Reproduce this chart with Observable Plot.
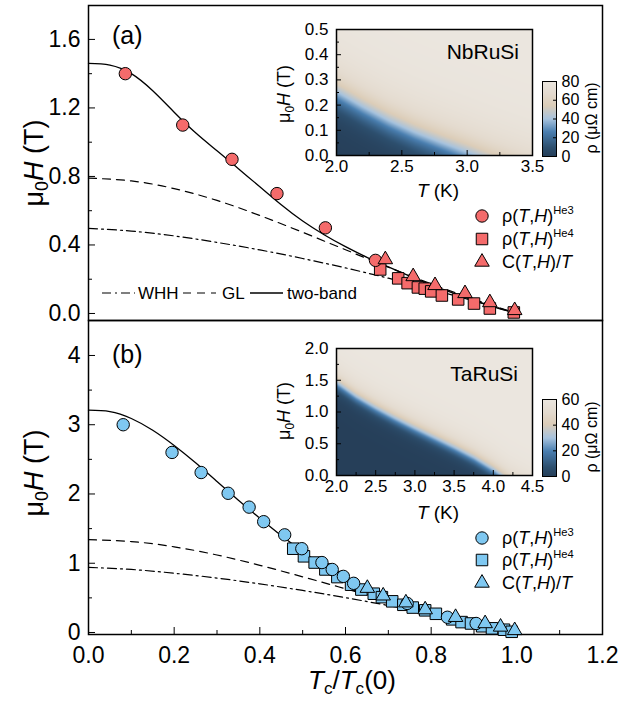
<!DOCTYPE html>
<html><head><meta charset="utf-8">
<script src="https://cdn.jsdelivr.net/npm/d3@7"></script>
<script src="https://cdn.jsdelivr.net/npm/@observablehq/plot@0.6"></script>
<style>
body{margin:0;background:#fff;}
#fig{position:relative;width:621px;height:702px;overflow:hidden;font-family:"Liberation Sans",Arial,sans-serif;}
#fig > svg{position:absolute;overflow:visible;}
</style></head><body><div id="fig"></div><script>
// ---------------- data ----------------
const xTicksMain = [0, 0.2, 0.4, 0.6, 0.8, 1.0, 1.2];
const xTickLabels = ["0.0", "0.2", "0.4", "0.6", "0.8", "1.0", "1.2"];
const xMinorMain = [0.1, 0.3, 0.5, 0.7, 0.9, 1.1];
const yTicksA = [0, 0.4, 0.8, 1.2, 1.6];
const yTickLabelsA = ["0.0", "0.4", "0.8", "1.2", "1.6"];
const yMinorA = [0.2, 0.6, 1.0, 1.4];
const yTicksB = [0, 1, 2, 3, 4];
const yTickLabelsB = ["0", "1", "2", "3", "4"];
const yMinorB = [0.5, 1.5, 2.5, 3.5];

// panel (a) NbRuSi, Hc2 vs reduced temperature
const aHe3T = [0.086, 0.22, 0.335, 0.44, 0.553, 0.67];
const aHe3H = [1.40, 1.10, 0.90, 0.70, 0.50, 0.31];
const aHe4T = [0.681, 0.723, 0.745, 0.769, 0.785, 0.80, 0.825, 0.863, 0.90, 0.937, 0.993];
const aHe4H = [0.257, 0.205, 0.177, 0.152, 0.145, 0.129, 0.105, 0.082, 0.058, 0.029, 0.006];
const aCT = [0.693, 0.758, 0.809, 0.879, 0.937, 0.995];
const aCH = [0.315, 0.216, 0.164, 0.117, 0.064, 0.018];

// panel (b) TaRuSi
const bHe3T = [0.081, 0.195, 0.263, 0.326, 0.375, 0.409, 0.458, 0.498, 0.545, 0.569, 0.595, 0.619, 0.744, 0.838, 0.905];
const bHe3H = [3.00, 2.60, 2.31, 2.01, 1.81, 1.60, 1.41, 1.21, 1.01, 0.91, 0.81, 0.71, 0.42, 0.22, 0.13];
const bHe4T = [0.478, 0.503, 0.528, 0.553, 0.581, 0.613, 0.637, 0.666, 0.685, 0.709, 0.735, 0.757, 0.786, 0.811, 0.849, 0.871, 0.893, 0.919, 0.942, 0.97, 0.988];
const bHe4H = [1.21, 1.10, 1.01, 0.91, 0.80, 0.69, 0.62, 0.56, 0.51, 0.45, 0.40, 0.36, 0.32, 0.27, 0.19, 0.15, 0.13, 0.09, 0.06, 0.04, 0.01];
const bCT = [0.651, 0.688, 0.741, 0.786, 0.857, 0.926, 0.962, 0.995];
const bCH = [0.64, 0.53, 0.43, 0.33, 0.22, 0.13, 0.08, 0.03];

// fitted curves
const tCoarse = [0, 0.1, 0.2, 0.3, 0.4, 0.5, 0.6, 0.7, 0.8, 0.9, 1.0];
const tFine = [0, 0.05, 0.1, 0.15, 0.2, 0.25, 0.3, 0.35, 0.4, 0.45, 0.5, 0.55, 0.6, 0.65, 0.7, 0.75, 0.8, 0.85, 0.9, 0.95, 1.0];
const twoBandA = [1.46, 1.45, 1.40, 1.30, 1.175, 1.055, 0.95, 0.845, 0.74, 0.635, 0.54, 0.46, 0.39, 0.328, 0.272, 0.218, 0.167, 0.12, 0.076, 0.036, 0.0];
const glA = [0.79, 0.774, 0.729, 0.66, 0.572, 0.474, 0.372, 0.27, 0.173, 0.083, 0.0];
const whhA = [0.497, 0.481, 0.453, 0.415, 0.371, 0.321, 0.266, 0.206, 0.141, 0.073, 0.0];
const twoBandB = [3.21, 3.19, 3.09, 2.92, 2.70, 2.45, 2.18, 1.91, 1.65, 1.40, 1.17, 0.96, 0.78, 0.62, 0.49, 0.38, 0.28, 0.195, 0.12, 0.055, 0.0];
const glB = [1.34, 1.313, 1.237, 1.119, 0.970, 0.804, 0.631, 0.459, 0.294, 0.141, 0.0];
const whhB = [0.94, 0.91, 0.856, 0.786, 0.702, 0.607, 0.503, 0.389, 0.267, 0.137, 0.0];

// inset heat maps: mid-transition field vs temperature
const insetAT = [2.0, 2.2, 2.4, 2.6, 2.8, 3.0, 3.2, 3.5];
const insetAHmid = [0.245, 0.185, 0.13, 0.083, 0.043, 0.005, -0.035, -0.09];
const insetBT = [2.0, 2.25, 2.5, 2.75, 3.0, 3.25, 3.5, 3.75, 4.0, 4.2, 4.5];
const insetBHmid = [1.45, 1.23, 1.05, 0.885, 0.73, 0.58, 0.43, 0.27, 0.08, -0.1, -0.3];
const insetAXTicks = [2.0, 2.5, 3.0, 3.5], insetAXLabels = ["2.0", "2.5", "3.0", "3.5"], insetAXMinor = [2.25, 2.75, 3.25];
const insetAYTicks = [0, 0.1, 0.2, 0.3, 0.4, 0.5], insetAYLabels = ["0.0", "0.1", "0.2", "0.3", "0.4", "0.5"], insetAYMinor = [0.05, 0.15, 0.25, 0.35, 0.45];
const insetBXTicks = [2.0, 2.5, 3.0, 3.5, 4.0, 4.5], insetBXLabels = ["2.0", "2.5", "3.0", "3.5", "4.0", "4.5"], insetBXMinor = [2.25, 2.75, 3.25, 3.75, 4.25];
const insetBYTicks = [0, 0.5, 1.0, 1.5, 2.0], insetBYLabels = ["0.0", "0.5", "1.0", "1.5", "2.0"], insetBYMinor = [0.25, 0.75, 1.25, 1.75];
const cbarATicks = [0, 20, 40, 60, 80];
const cbarBTicks = [0, 20, 40, 60];
const cmapPos = [0, 0.12, 0.33, 0.5, 0.68, 0.84, 1.0];
const cmapColors = ["#263f59", "#2d4f6e", "#4a7fb0", "#a7c3de", "#dccdb8", "#e4dbcf", "#ebe6df"];

const redFill = "#f46b6b", blueFill = "#7fc8f1";
const FONT = "'Liberation Sans', Arial, sans-serif";

// ---------------- helpers ----------------
const rows = (xs, ys) => xs.map((x, i) => ({x, y: ys[i]}));
const lab = (ticks, labels) => d => labels[ticks.indexOf(d)];
function lerp(xs, ys, x) {
  if (x <= xs[0]) return ys[0];
  for (let i = 1; i < xs.length; i++) if (x <= xs[i]) {
    const f = (x - xs[i - 1]) / (xs[i] - xs[i - 1]);
    return ys[i - 1] + f * (ys[i] - ys[i - 1]);
  }
  return ys[ys.length - 1];
}
const fig = document.getElementById("fig");
function place(svg, left, top) { svg.style.left = left + "px"; svg.style.top = top + "px"; fig.appendChild(svg); }

function mainPanel(o) {
  return Plot.plot({
    width: 621, height: o.height, marginLeft: 88, marginRight: 19, marginTop: o.mt, marginBottom: o.mb,
    style: {fontFamily: FONT, fontSize: "23px", color: "black", background: "transparent"},
    x: {domain: [0, 1.2], axis: null}, y: {domain: o.ydom, axis: null},
    marks: [
      Plot.line(rows(tCoarse, o.whh), {x: "x", y: "y", curve: "natural", stroke: "black", strokeWidth: 1.2, strokeDasharray: "9,4,2,4"}),
      Plot.line(rows(tCoarse, o.gl), {x: "x", y: "y", curve: "natural", stroke: "black", strokeWidth: 1.2, strokeDasharray: "8,6"}),
      Plot.line(rows(tFine, o.two), {x: "x", y: "y", curve: "natural", stroke: "black", strokeWidth: 1.3}),
      Plot.axisY(o.yt, {anchor: "left", tickSize: -7, tickPadding: 15, tickFormat: lab(o.yt, o.ytl), label: null, fontSize: 23}),
      Plot.axisY(o.ym, {anchor: "left", tickSize: -4, tickFormat: () => "", label: null}),
      ...(o.xaxis ? [
        Plot.axisX(xTicksMain, {anchor: "bottom", tickSize: -7, tickPadding: 19, tickFormat: lab(xTicksMain, xTickLabels), label: null, fontSize: 23}),
        Plot.axisX(xMinorMain, {anchor: "bottom", tickSize: -4, tickFormat: () => "", label: null})
      ] : []),
      Plot.frame({stroke: "black", strokeWidth: 1.5}),
      Plot.dot(rows(o.he4T, o.he4H), {x: "x", y: "y", symbol: "square", r: 6.5, fill: o.fill, stroke: "black", strokeWidth: 1}),
      Plot.dot(rows(o.he3T, o.he3H), {x: "x", y: "y", symbol: "circle", r: 6.2, fill: o.fill, stroke: "black", strokeWidth: 1}),
      Plot.dot(rows(o.cT, o.cH), {x: "x", y: "y", symbol: "triangle", r: 5.4, fill: o.fill, stroke: "black", strokeWidth: 1})
    ]
  });
}

function colorScale(rmax) {
  return {type: "linear", domain: cmapPos.map(p => p * rmax), range: cmapColors, interpolate: "rgb"};
}

function insetPanel(o) {
  return Plot.plot({
    width: 266, height: 166, marginLeft: 60, marginRight: 10, marginTop: 10, marginBottom: 166 - 10 - o.ph,
    style: {fontFamily: FONT, fontSize: "17px", color: "black", background: "transparent"},
    x: {domain: o.xdom, axis: null}, y: {domain: o.ydom, axis: null},
    color: colorScale(o.rmax),
    marks: [
      Plot.raster({x1: o.xdom[0], x2: o.xdom[1], y1: o.ydom[0], y2: o.ydom[1], pixelSize: 1,
        fill: (T, H) => {
          const d = H - lerp(o.bT, o.bH, T);
          const s1 = 1 / (1 + Math.exp(-d / o.w));
          const s2 = 1 / (1 + Math.exp(-(d - o.w * 2) / (o.w * 2.5)));
          return o.rmax * (0.72 * s1 + 0.28 * s2);
        }}),
      Plot.axisX(o.xt, {anchor: "bottom", tickSize: -5, tickPadding: 9, tickFormat: lab(o.xt, o.xtl), label: null}),
      Plot.axisX(o.xm, {anchor: "bottom", tickSize: -3, tickFormat: () => "", label: null}),
      Plot.axisY(o.yt, {anchor: "left", tickSize: -5, tickPadding: 13, tickFormat: lab(o.yt, o.ytl), label: null}),
      Plot.axisY(o.ym, {anchor: "left", tickSize: -3, tickFormat: () => "", label: null}),
      Plot.frame({stroke: "black", strokeWidth: 1.5})
    ]
  });
}

function colorBar(o) {
  return Plot.plot({
    width: 70, height: 10 + o.ph + 10, marginLeft: 2, marginRight: 54, marginTop: 10, marginBottom: 10,
    style: {fontFamily: FONT, fontSize: "16px", color: "black", background: "transparent"},
    x: {domain: [0, 1], axis: null}, y: {domain: [0, o.rmax], axis: null},
    color: colorScale(o.rmax),
    marks: [
      Plot.raster({x1: 0, x2: 1, y1: 0, y2: o.rmax, pixelSize: 1, fill: (x, y) => y}),
      Plot.axisY(o.ticks, {anchor: "right", tickSize: -4, tickPadding: 9, tickFormat: d => String(d), label: null}),
      Plot.frame({stroke: "black", strokeWidth: 1})
    ]
  });
}

// ---------------- build ----------------
const panelA = mainPanel({height: 321, mt: 5, mb: 1, ydom: [-0.041, 1.798], yt: yTicksA, ytl: yTickLabelsA, ym: yMinorA,
  xaxis: false, whh: whhA, gl: glA, two: twoBandA, fill: redFill,
  he3T: aHe3T, he3H: aHe3H, he4T: aHe4T, he4H: aHe4H, cT: aCT, cH: aCH});
place(panelA, 0, 0);
const panelB = mainPanel({height: 387, mt: 5, mb: 68, ydom: [-0.029, 4.505], yt: yTicksB, ytl: yTickLabelsB, ym: yMinorB,
  xaxis: true, whh: whhB, gl: glB, two: twoBandB, fill: blueFill,
  he3T: bHe3T, he3H: bHe3H, he4T: bHe4T, he4H: bHe4H, cT: bCT, cH: bCH});
place(panelB, 0, 315);

place(insetPanel({ph: 126, xdom: [2.0, 3.5], ydom: [0, 0.5], rmax: 80, bT: insetAT, bH: insetAHmid, w: 0.033,
  xt: insetAXTicks, xtl: insetAXLabels, xm: insetAXMinor, yt: insetAYTicks, ytl: insetAYLabels, ym: insetAYMinor}), 276, 19);
place(insetPanel({ph: 127, xdom: [2.0, 4.5], ydom: [0, 2.0], rmax: 60, bT: insetBT, bH: insetBHmid, w: 0.06,
  xt: insetBXTicks, xtl: insetBXLabels, xm: insetBXMinor, yt: insetBYTicks, ytl: insetBYLabels, ym: insetBYMinor}), 276, 338);
place(colorBar({ph: 75, rmax: 80, ticks: cbarATicks}), 540, 71);
place(colorBar({ph: 77, rmax: 60, ticks: cbarBTicks}), 540, 389);

// ---------------- overlay text & legends ----------------
const ov = d3.select(fig).append("svg").attr("width", 621).attr("height", 702)
  .style("left", "0px").style("top", "0px").style("pointer-events", "none")
  .attr("font-family", FONT).attr("fill", "black");

function rich(x, y, parts, size, anchor = "start", rotate = 0) {
  const t = ov.append("text").attr("font-size", size).attr("text-anchor", anchor)
    .attr("transform", `translate(${x},${y}) rotate(${rotate})`);
  let shift = 0;
  for (const p of parts) {
    const s = t.append("tspan").text(p.t);
    let target = 0;
    if (p.i) s.attr("font-style", "italic");
    if (p.sub) { s.attr("font-size", size * 0.66); target = size * 0.2; }
    if (p.sup) { s.attr("font-size", size * 0.62); target = -size * 0.42; }
    if (target !== shift) { s.attr("dy", target - shift); shift = target; }
  }
  return t;
}

// axis titles
const muH = [{t: "μ"}, {t: "0", sub: 1}, {t: "H", i: 1}, {t: " (T)"}];
rich(43, 163, muH, 27, "middle", -90);
rich(43, 473, muH, 27, "middle", -90);
rich(352, 689, [{t: "T", i: 1}, {t: "c", sub: 1}, {t: "/"}, {t: "T", i: 1}, {t: "c", sub: 1}, {t: "(0)"}], 26, "middle");
rich(112, 44, [{t: "(a)"}], 25);
rich(112, 363, [{t: "(b)"}], 25);

// inset titles
rich(519, 59, [{t: "NbRuSi"}], 21, "end");
rich(518, 381, [{t: "TaRuSi"}], 21, "end");
rich(438, 197, [{t: "T", i: 1}, {t: " (K)"}], 19, "middle");
rich(438, 519, [{t: "T", i: 1}, {t: " (K)"}], 19, "middle");
rich(290, 94, muH, 18, "middle", -90);
rich(290, 411, muH, 18, "middle", -90);
rich(597, 118, [{t: "ρ (μΩ cm)"}], 16, "middle", -90);
rich(597, 437, [{t: "ρ (μΩ cm)"}], 16, "middle", -90);

// line-style legend
const ly = 293;
ov.append("line").attr("x1", 102).attr("x2", 135).attr("y1", ly).attr("y2", ly).attr("stroke", "black").attr("stroke-width", 1.2).attr("stroke-dasharray", "9,4,2,4");
rich(138, ly + 6, [{t: "WHH"}], 17);
ov.append("line").attr("x1", 183).attr("x2", 216).attr("y1", ly).attr("y2", ly).attr("stroke", "black").attr("stroke-width", 1.2).attr("stroke-dasharray", "8,6");
rich(222, ly + 6, [{t: "GL"}], 17);
ov.append("line").attr("x1", 250).attr("x2", 283).attr("y1", ly).attr("y2", ly).attr("stroke", "black").attr("stroke-width", 1.3);
rich(287, ly + 6, [{t: "two-band"}], 17);

// symbol legends
function symLegend(x, ys, fill) {
  const shapes = [[d3.symbolCircle, 6.2], [d3.symbolSquare, 6.5], [d3.symbolTriangle, 5.4]];
  const labels = [
    [{t: "ρ("}, {t: "T", i: 1}, {t: ","}, {t: "H", i: 1}, {t: ")"}, {t: "He3", sup: 1}],
    [{t: "ρ("}, {t: "T", i: 1}, {t: ","}, {t: "H", i: 1}, {t: ")"}, {t: "He4", sup: 1}],
    [{t: "C("}, {t: "T", i: 1}, {t: ","}, {t: "H", i: 1}, {t: ")/"}, {t: "T", i: 1}]
  ];
  ys.forEach((y, i) => {
    ov.append("path").attr("d", d3.symbol(shapes[i][0], Math.PI * shapes[i][1] ** 2)())
      .attr("transform", `translate(${x},${y})`).attr("fill", fill).attr("stroke", "black").attr("stroke-width", 1);
    rich(x + 20, y + 6, labels[i], 18);
  });
}
symLegend(482, [216, 239, 262], redFill);
symLegend(482, [538, 560, 583], blueFill);
</script></body></html>
